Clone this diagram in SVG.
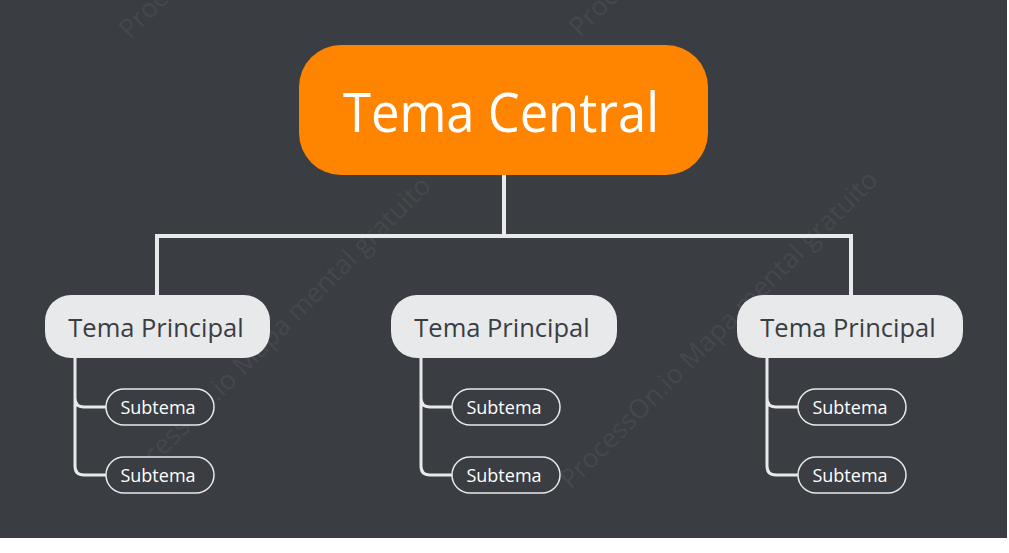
<svg xmlns="http://www.w3.org/2000/svg" width="1009" height="553" viewBox="0 0 1009 553">
<style>
  .wm { font-family: "Open Sans", "Noto Sans", sans-serif; font-size: 26.5px; fill: #45484d; }
  .root rect { fill: #ff8400; }
  .root text { font-family: "Open Sans", "Noto Sans", sans-serif; font-size: 54px; fill: #ffffff; text-anchor: middle; }
  .main rect { fill: #e8e9eb; }
  .main text { font-family: "Open Sans", "Noto Sans", sans-serif; font-size: 25.5px; fill: #3a3d42; text-anchor: middle; }
  .sub rect { fill: #3a3d42; stroke: #e8e9eb; stroke-width: 1.5; }
  .sub text { font-family: "Open Sans", "Noto Sans", sans-serif; font-size: 18px; fill: #ffffff; text-anchor: middle; }
  .trunk { fill: none; stroke: #e8e9eb; stroke-width: 4; }
  .branch { fill: none; stroke: #e8e9eb; stroke-width: 3; }
</style>
<rect x="0" y="0" width="1009" height="553" fill="#ffffff"/>
<rect x="0" y="0" width="1007" height="538" fill="#3a3d42"/>
<g id="watermarks">
  <text class="wm" transform="translate(130,40) rotate(-45)">Proc</text>
  <text class="wm" transform="translate(580,38) rotate(-45)">Proc</text>
  <text class="wm" transform="translate(124,496) rotate(-45)">ProcessOn.io Mapa mental gratuito</text>
  <text class="wm" transform="translate(571,490) rotate(-45)">ProcessOn.io Mapa mental gratuito</text>
</g>
<g id="connectors">
  <path class="trunk" d="M504,175 V236 M157,297 V236 H851 V297"/>
  <path class="branch" d="M75,358 V398 Q75,407 84,407 H106 M75,398 V466 Q75,475 84,475 H106"/>
  <path class="branch" d="M421,358 V398 Q421,407 430,407 H452 M421,398 V466 Q421,475 430,475 H452"/>
  <path class="branch" d="M767,358 V398 Q767,407 776,407 H798 M767,398 V466 Q767,475 776,475 H798"/>
</g>
<g id="root" class="root">
  <rect x="299" y="45" width="409" height="130" rx="42"/>
  <text x="501" y="132" textLength="316" lengthAdjust="spacingAndGlyphs">Tema Central</text>
</g>
<g id="main1" class="main">
  <rect x="45" y="295" width="225" height="63" rx="26"/>
  <text x="156" y="337">Tema Principal</text>
</g>
<g id="main2" class="main">
  <rect x="391" y="295" width="226" height="63" rx="26"/>
  <text x="502" y="337">Tema Principal</text>
</g>
<g id="main3" class="main">
  <rect x="737" y="295" width="226" height="63" rx="26"/>
  <text x="848" y="337">Tema Principal</text>
</g>
<g id="sub1a" class="sub"><rect x="106" y="389" width="108" height="36" rx="18"/><text x="158" y="414">Subtema</text></g>
<g id="sub1b" class="sub"><rect x="106" y="457" width="108" height="36" rx="18"/><text x="158" y="482">Subtema</text></g>
<g id="sub2a" class="sub"><rect x="452" y="389" width="108" height="36" rx="18"/><text x="504" y="414">Subtema</text></g>
<g id="sub2b" class="sub"><rect x="452" y="457" width="108" height="36" rx="18"/><text x="504" y="482">Subtema</text></g>
<g id="sub3a" class="sub"><rect x="798" y="389" width="108" height="36" rx="18"/><text x="850" y="414">Subtema</text></g>
<g id="sub3b" class="sub"><rect x="798" y="457" width="108" height="36" rx="18"/><text x="850" y="482">Subtema</text></g>
</svg>
